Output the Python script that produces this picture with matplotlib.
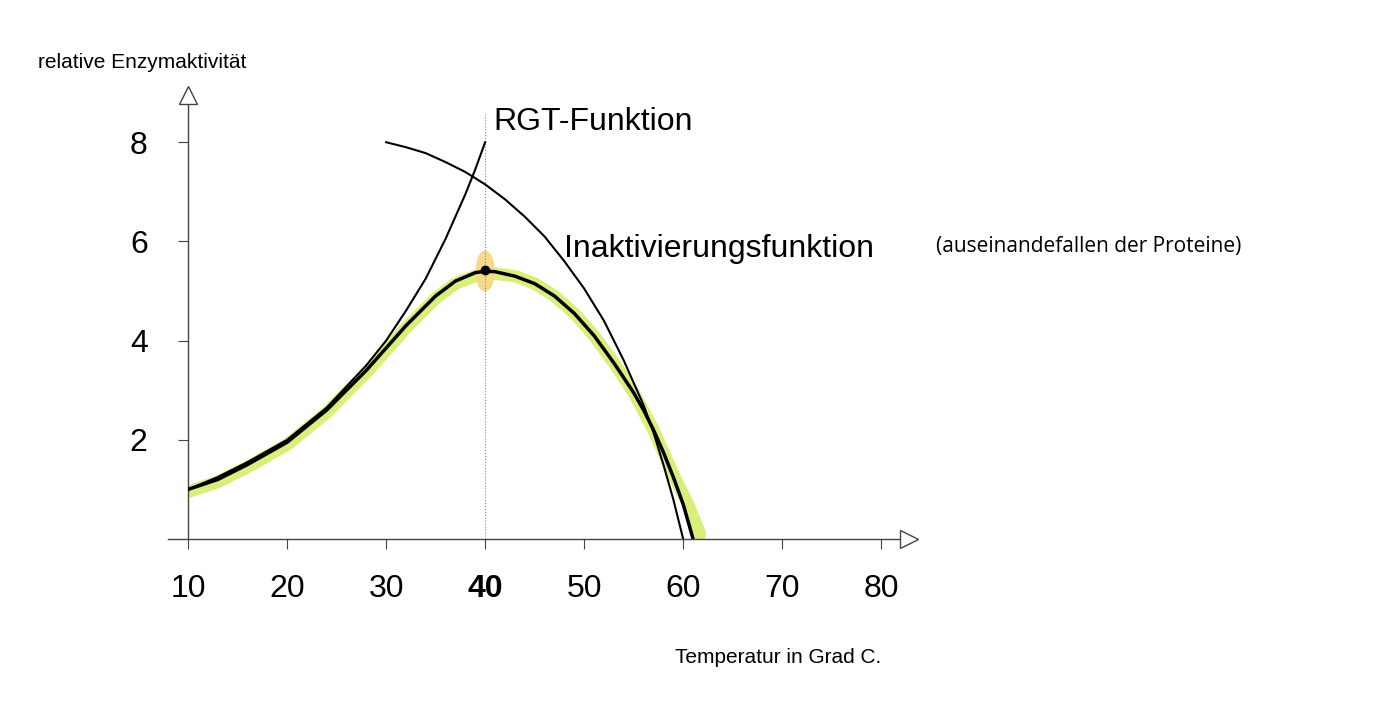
import matplotlib.pyplot as plt
from matplotlib.patches import Ellipse

plt.rcParams["font.family"] = ["Liberation Sans", "DejaVu Sans"]

# values
rgt_x = [10, 13, 16, 20, 24, 28, 30, 32, 34, 35, 36, 37, 38, 39, 40]
rgt_y = [1.0, 1.25, 1.55, 2.0, 2.65, 3.5, 4.0, 4.6, 5.25, 5.65, 6.05, 6.5, 6.95, 7.45, 8.0]

inakt_x = [30, 32, 34, 36, 38, 40, 42, 44, 46, 48, 50, 52, 54, 56, 57, 58, 59, 60]
inakt_y = [8.0, 7.9, 7.78, 7.6, 7.4, 7.15, 6.85, 6.5, 6.1, 5.6, 5.05, 4.4, 3.6, 2.7, 2.15, 1.5, 0.8, 0.0]

opt_x = [10, 13, 16, 20, 24, 28, 32, 35, 37, 39, 40, 41, 43, 45, 47, 49, 51, 53, 55, 56, 57, 58, 59, 60, 61]
opt_y = [1.0, 1.2, 1.5, 1.95, 2.6, 3.4, 4.3, 4.9, 5.2, 5.37, 5.4, 5.39, 5.3, 5.15, 4.9, 4.55, 4.1, 3.55, 2.95, 2.6, 2.2, 1.75, 1.25, 0.7, 0.0]

glow_x = [10, 13, 16, 20, 24, 28, 32, 35, 37, 39, 41, 43, 45, 47, 49, 51, 53, 55, 57, 59, 60.5, 61.7]
glow_y = [0.95, 1.15, 1.45, 1.9, 2.55, 3.35, 4.25, 4.85, 5.15, 5.3, 5.35, 5.3, 5.15, 4.9, 4.55, 4.1, 3.55, 2.95, 2.2, 1.3, 0.7, 0.1]

x_ticks = [10, 20, 30, 40, 50, 60, 70, 80]
y_ticks = [2, 4, 6, 8]

fig = plt.figure(figsize=(14, 7.21), dpi=100)
ax = fig.add_axes([0.1343, 0.2524, 0.5164, 0.626])
ax.set_xlim(10, 83)
ax.set_ylim(0, 9.1)
for s in ax.spines.values():
    s.set_visible(False)

ax.plot([8, 82.4], [0, 0], color="#444", lw=1, clip_on=False)
ax.plot([10, 10], [0, 8.85], color="#444", lw=1, clip_on=False)
ax.plot(82.8, 0, marker=">", mfc="white", mec="#444", ms=13, clip_on=False)
ax.plot(10, 8.95, marker="^", mfc="white", mec="#444", ms=13, clip_on=False)

ax.plot(glow_x, glow_y, color="#d8f07a", lw=9, solid_capstyle="round", zorder=1)
ax.add_patch(Ellipse((40, 5.4), 1.8, 0.8, color="#f7d98a", zorder=2))
ax.plot([40, 40], [0, 8.6], color="#888", lw=0.8, ls=":")
ax.plot(rgt_x, rgt_y, color="black", lw=1.5, zorder=3)
ax.plot(inakt_x, inakt_y, color="black", lw=1.5, zorder=3)
ax.plot(opt_x, opt_y, color="black", lw=2.5, zorder=4)
ax.plot(40, 5.42, "o", color="black", ms=6, zorder=5)

ax.set_xticks(x_ticks)
ax.set_yticks(y_ticks)
ax.tick_params(axis="both", labelsize=23, length=7, color="#444")
ax.tick_params(axis="x", pad=18)
ax.tick_params(axis="y", pad=22)
for lbl in ax.get_xticklabels():
    if lbl.get_text() == "40":
        lbl.set_fontweight("bold")

ax.text(40.8, 8.4, "RGT-Funktion", fontsize=23, va="center")
ax.text(48.0, 5.85, "Inaktivierungsfunktion", fontsize=23, va="center")
ax.text(85.5, 5.9, "(auseinandefallen der Proteine)", fontsize=15, va="center",
        family=["Open Sans", "DejaVu Sans"])

fig.text(0.027, 0.914, "relative Enzymaktivität", fontsize=15, va="center")
fig.text(0.482, 0.088, "Temperatur in Grad C.", fontsize=15, va="center")

fig.savefig("out.png", facecolor="white")
